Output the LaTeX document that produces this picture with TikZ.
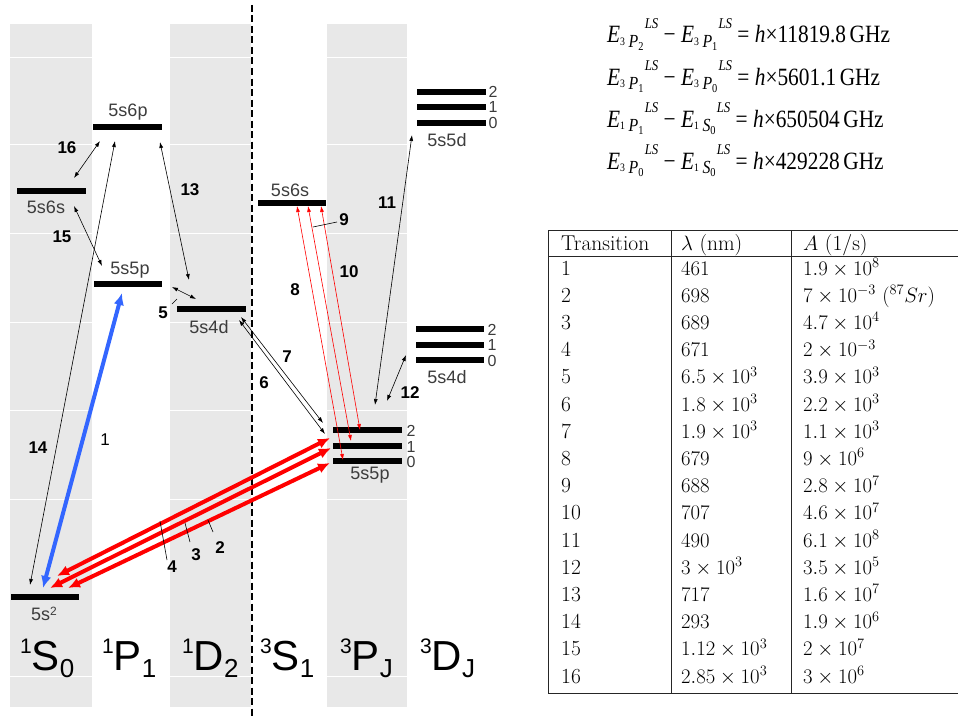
\documentclass[tikz,border=0pt]{standalone}
\usepackage{fontspec}
\usepackage{graphicx}
\usetikzlibrary{arrows.meta}
\newfontfamily\arial{Liberation Sans}
\newfontfamily\tnr{Liberation Serif}
\definecolor{colgray}{RGB}{232,232,232}
\definecolor{lblgray}{RGB}{60,60,60}
\definecolor{myblue}{RGB}{51,102,255}
\newcommand{\EE}[3]{\textit{E}\raisebox{-3.5pt}{\raisebox{2pt}{\fontsize{8}{8}\selectfont #1}\,\textit{\fontsize{13}{13}\selectfont #2}\raisebox{-2pt}{\fontsize{8.5}{8.5}\selectfont #3}}\kern1pt\raisebox{10.5pt}{\fontsize{10.5}{10.5}\selectfont\textit{LS}}}
\newcommand{\trm}[3]{\raisebox{17pt}{\fontsize{21}{21}\selectfont #1}#2\raisebox{-7pt}{\fontsize{26}{26}\selectfont #3}}
\begin{document}
\begin{tikzpicture}[x=1pt,y=-1pt,
  level/.style={line width=5.5pt,black},
  thinarr/.style={line width=0.6pt,{Latex[length=6pt,width=4pt]}-{Latex[length=6pt,width=4pt]}},
  redthin/.style={thinarr,red},
  redthick/.style={line width=4pt,red,{Latex[length=12pt,width=10.5pt]}-{Latex[length=12pt,width=10.5pt]}},
  bluethick/.style={line width=4pt,myblue,{Latex[length=12pt,width=10.5pt]}-{Latex[length=12pt,width=10.5pt]}},
  lvlname/.style={font=\arial\fontsize{18}{18}\selectfont,text=lblgray,inner sep=0pt},
  jlab/.style={font=\arial\fontsize{16}{16}\selectfont,text=lblgray,inner sep=0pt},
  num/.style={font=\arial\bfseries\fontsize{17}{17}\selectfont,inner sep=0pt},
  term/.style={font=\arial\fontsize{42}{42}\selectfont,inner sep=0pt,anchor=base west},
  leader/.style={line width=0.6pt},
  eq/.style={font=\tnr\fontsize{17.5}{17.5}\selectfont,inner sep=0pt,anchor=base west},
  tab/.style={font=\fontsize{21.5}{21.5}\selectfont,inner sep=0pt,anchor=base west},
  rule/.style={line width=1pt,black!85}]
\useasboundingbox (0,0) rectangle (958,717);
% columns
\fill[colgray] (10,24) rectangle (92,707);
\fill[colgray] (170,24) rectangle (251,707);
\fill[colgray] (327,24) rectangle (407,707);
\foreach \yy in {57,144,233,322,410,499,676}{
  \draw[white,line width=0.8pt] (10,\yy) -- (92,\yy);
  \draw[white,line width=0.8pt] (170,\yy) -- (251,\yy);
  \draw[white,line width=0.8pt] (327,\yy) -- (407,\yy);
}
\draw[line width=2pt,dash pattern=on 7pt off 3.5pt] (252,5) -- (252,717);
% levels
\draw[level] (93,127) -- (162,127);
\draw[level] (17,191) -- (86,191);
\draw[level] (94,284) -- (162,284);
\draw[level] (177,309) -- (246,309);
\draw[level] (11,597) -- (79,597);
\draw[level] (258,203) -- (326,203);
\foreach \yy in {92,107,123}{\draw[level] (417,\yy) -- (486,\yy);}
\foreach \yy in {329,345,360}{\draw[level] (416,\yy) -- (484,\yy);}
\foreach \yy in {430,446,461}{\draw[level] (333,\yy) -- (402,\yy);}
% level names
\node[lvlname] (n6p) at (128,112) {5s6p};
\node[lvlname] (n6s) at (46,207) {5s6s};
\node[lvlname] (n5p) at (130,270) {5s5p};
\node[lvlname] (n4d) at (209,327) {5s4d};
\node[lvlname] (ngs) at (44,614) {5s\raisebox{5pt}{\fontsize{12}{12}\selectfont 2}};
\node[lvlname] (t6s) at (290,190) {5s6s};
\node[lvlname] (t5d) at (447,140) {5s5d};
\node[lvlname] (t4d) at (447,377) {5s4d};
\node[lvlname] (t5p) at (370,475) {5s5p};
\node[jlab] (j5d2) at (493,92) {2};
\node[jlab] (j5d1) at (493,107) {1};
\node[jlab] (j5d0) at (493,123) {0};
\node[jlab] (j4d2) at (492,330) {2};
\node[jlab] (j4d1) at (492,345) {1};
\node[jlab] (j4d0) at (492,361) {0};
\node[jlab] (j5p2) at (411,431) {2};
\node[jlab] (j5p1) at (411,447) {1};
\node[jlab] (j5p0) at (411,462) {0};
% term labels
\node[term] (tS0) at (20,670) {\trm{1}{S}{0}};
\node[term] (tP1) at (102,670) {\trm{1}{P}{1}};
\node[term] (tD2) at (182,670) {\trm{1}{D}{2}};
\node[term] (tS1) at (260,670) {\trm{3}{S}{1}};
\node[term] (tPJ) at (340,670) {\trm{3}{P}{J}};
\node[term] (tDJ) at (420,670) {\trm{3}{D}{J}};
% arrow endpoints
\coordinate (g1) at (43,588); \coordinate (p1) at (122,293);
\coordinate (g14) at (30,585); \coordinate (p14) at (115,141);
\coordinate (a16) at (100,141); \coordinate (b16) at (74,178);
\coordinate (a15) at (74,206); \coordinate (b15) at (102,266);
\coordinate (a13) at (160,142); \coordinate (b13) at (189,280);
\coordinate (a5) at (172,287); \coordinate (b5) at (196,299);
\coordinate (a7) at (241,317); \coordinate (b7) at (323,423);
\coordinate (a6) at (239,320); \coordinate (b6) at (325,434);
\coordinate (a8) at (297,206); \coordinate (b8) at (343,460);
\coordinate (a9) at (308,206); \coordinate (b9) at (351,441);
\coordinate (a10) at (321,206); \coordinate (b10) at (360,430);
\coordinate (a11) at (375,405); \coordinate (b11) at (412,135);
\coordinate (a12) at (387,401); \coordinate (b12) at (406,355);
\coordinate (a4) at (330,438); \coordinate (b4) at (57,576);
\coordinate (a3) at (331,448); \coordinate (b3) at (50,588);
\coordinate (a2) at (330,463); \coordinate (b2) at (68,588);
% arrows
\draw[thinarr] (g14) -- (p14);
\draw[bluethick] (g1) -- (p1);
\draw[thinarr] (a16) -- (b16);
\draw[thinarr] (a15) -- (b15);
\draw[thinarr] (a13) -- (b13);
\draw[thinarr] (a5) -- (b5);
\draw[thinarr] (a7) -- (b7);
\draw[thinarr] (a6) -- (b6);
\draw[redthin] (a8) -- (b8);
\draw[redthin] (a9) -- (b9);
\draw[redthin] (a10) -- (b10);
\draw[thinarr] (a11) -- (b11);
\draw[thinarr] (a12) -- (b12);
\draw[redthick] (a4) -- (b4);
\draw[redthick] (a3) -- (b3);
\draw[redthick] (a2) -- (b2);
% leaders
\draw[leader] (160,521) -- (167,560);
\draw[leader] (185,523) -- (190,542);
\draw[leader] (208,520) -- (213,532);
\draw[leader] (172,304) -- (177,299);
\draw[leader] (313,227) -- (337,222);
% numbers
\node[num,font=\arial\fontsize{17}{17}\selectfont] (l1) at (105,440) {1};
\node[num] (l14) at (38,448) {14};
\node[num] (l16) at (67,148) {16};
\node[num] (l15) at (62,237) {15};
\node[num] (l13) at (190,190) {13};
\node[num] (l5) at (163,313) {5};
\node[num] (l7) at (287,357) {7};
\node[num] (l6) at (264,383) {6};
\node[num] (l8) at (295,290) {8};
\node[num] (l10) at (349,272) {10};
\node[num] (l9) at (344,220) {9};
\node[num] (l11) at (387,203) {11};
\node[num] (l12) at (410,393) {12};
\node[num] (l4) at (172,567) {4};
\node[num] (l3) at (196,555) {3};
\node[num] (l2) at (220,548) {2};
% equations
\node[eq] (eq1) at (607,43) {\scalebox{1.22}[1.42]{\EE{3}{P}{2} − \EE{3}{P}{1} = \textit{h}×11819.8\,GHz}};
\node[eq] (eq2) at (607,85) {\scalebox{1.22}[1.42]{\EE{3}{P}{1} − \EE{3}{P}{0} = \textit{h}×5601.1\,GHz}};
\node[eq] (eq3) at (607,127) {\scalebox{1.22}[1.42]{\EE{1}{P}{1} − \EE{1}{S}{0} = \textit{h}×650504\,GHz}};
\node[eq] (eq4) at (607,169) {\scalebox{1.22}[1.42]{\EE{3}{P}{0} − \EE{1}{S}{0} = \textit{h}×429228\,GHz}};
% table
\draw[rule] (548,230) -- (958,230);
\draw[rule] (548,256) -- (958,256);
\draw[rule] (548,693) -- (958,693);
\draw[rule] (548,230) -- (548,693);
\draw[rule] (671,230) -- (671,693);
\draw[rule] (791,230) -- (791,693);
\node[tab] (h1) at (561,250) {Transition};
\node[tab] (h2) at (681,250) {$\lambda$ (nm)};
\node[tab] (h3) at (803,250) {$A$ (1/s)};
\foreach \vi/\vw/\va [count=\k from 0] in {
 1/461/{1.9\times10^{8}},
 2/698/{7\times10^{-3}\ (^{87}Sr)},
 3/689/{4.7\times10^{4}},
 4/671/{2\times10^{-3}},
 5/{6.5\times10^{3}}/{3.9\times10^{3}},
 6/{1.8\times10^{3}}/{2.2\times10^{3}},
 7/{1.9\times10^{3}}/{1.1\times10^{3}},
 8/679/{9\times10^{6}},
 9/688/{2.8\times10^{7}},
 10/707/{4.6\times10^{7}},
 11/490/{6.1\times10^{8}},
 12/{3\times10^{3}}/{3.5\times10^{5}},
 13/717/{1.6\times10^{7}},
 14/293/{1.9\times10^{6}},
 15/{1.12\times10^{3}}/{2\times10^{7}},
 16/{2.85\times10^{3}}/{3\times10^{6}}}{
  \node[tab] (r\vi a) at (561,275+27.2*\k) {\vi};
  \node[tab] (r\vi b) at (681,275+27.2*\k) {$\vw$};
  \node[tab] (r\vi c) at (803,275+27.2*\k) {$\va$};
}
\end{tikzpicture}
\end{document}
